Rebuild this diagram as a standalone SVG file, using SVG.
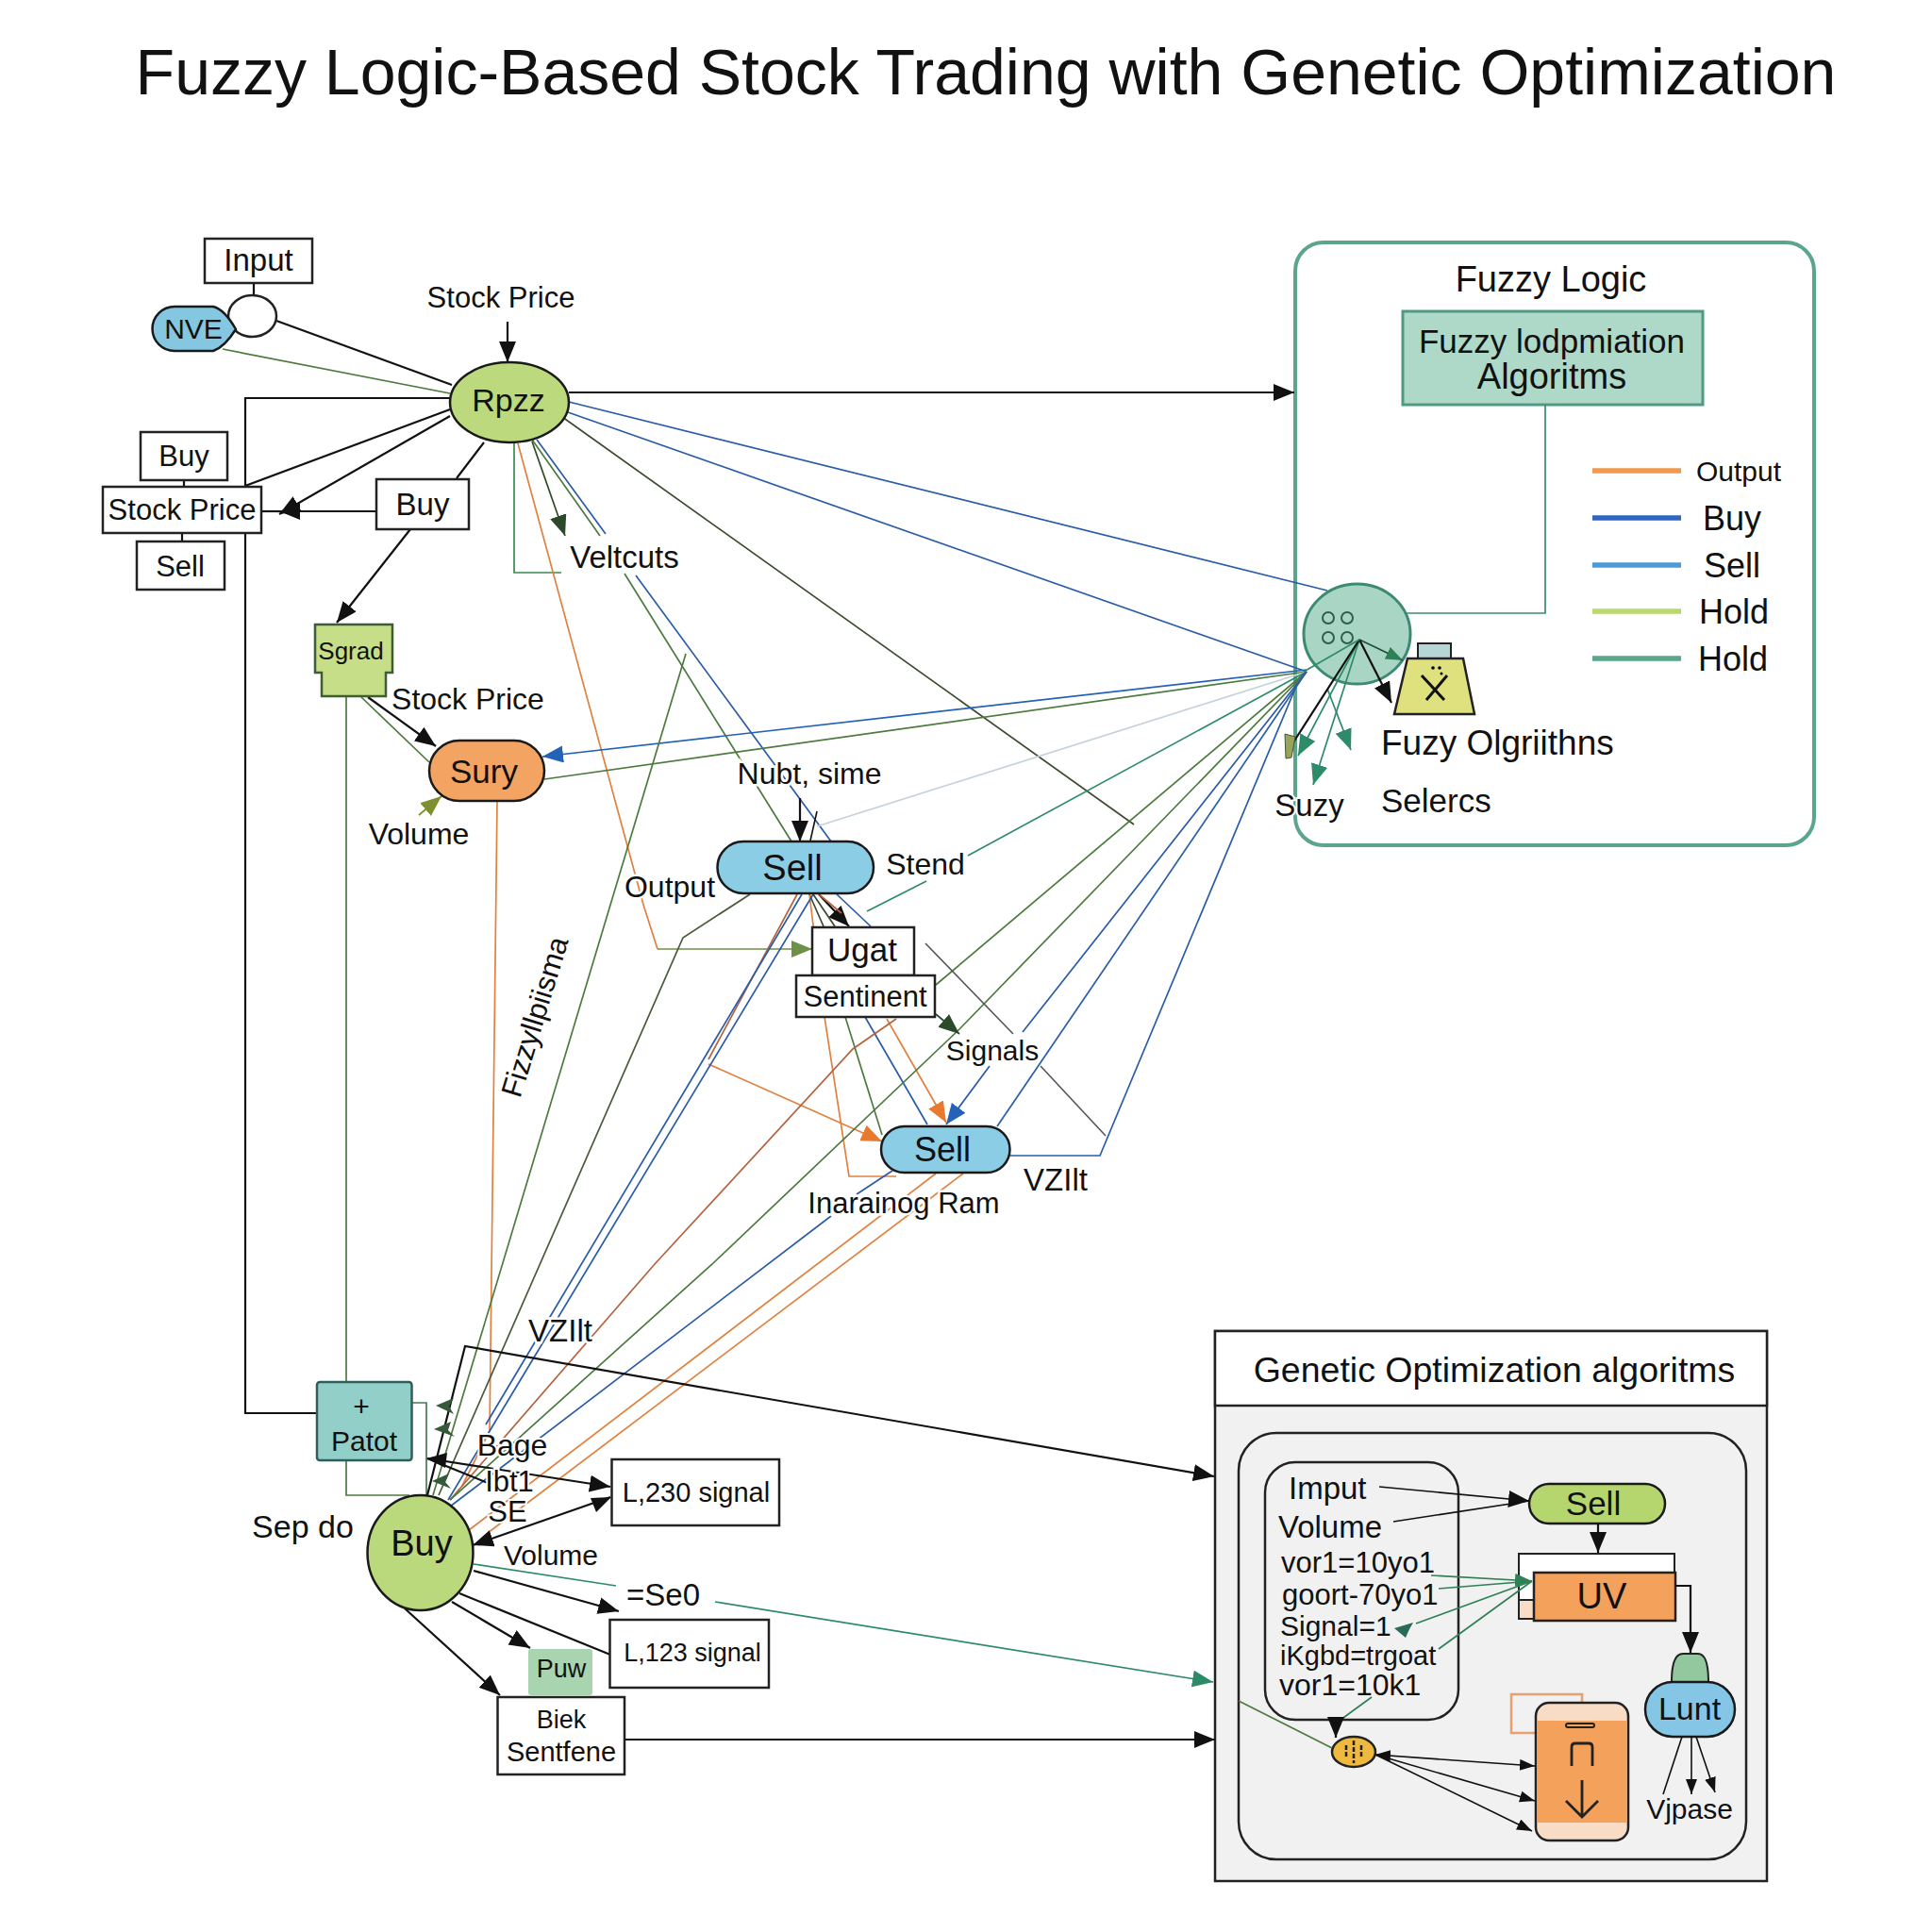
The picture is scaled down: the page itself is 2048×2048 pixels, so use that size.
<svg xmlns="http://www.w3.org/2000/svg" width="2048" height="2048" viewBox="0 0 2048 2048">
<style>
text{font-family:"Liberation Sans",Arial,sans-serif;fill:#111;text-anchor:middle;dominant-baseline:central}
.l{text-anchor:start}
.box{fill:#fff;stroke:#222;stroke-width:2.5}
.node{stroke:#1a1a1a;stroke-width:2.5}
.c{fill:none;stroke-width:1.7;stroke-linejoin:miter}
.k{stroke:#111;stroke-width:2.2}
.g{stroke:#4d7a3e}
.dg{stroke:#3c4a30}
.tl{stroke:#2e8b6a}
.bl{stroke:#2b5ca8}
.or{stroke:#e0813f}
.br{stroke:#b5623f}
.gy{stroke:#555}
.thin{stroke-width:1.6}
.leg{stroke-width:5.5;fill:none}
</style>
<defs>
<marker id="ak" markerUnits="userSpaceOnUse" markerWidth="24" markerHeight="20" refX="22" refY="9" orient="auto"><path d="M0 0L22 9L0 18z" fill="#111"/></marker>
<marker id="aks" markerUnits="userSpaceOnUse" markerWidth="18" markerHeight="14" refX="16" refY="6" orient="auto"><path d="M0 0L16 6L0 12z" fill="#111"/></marker>
<marker id="ads" markerUnits="userSpaceOnUse" markerWidth="18" markerHeight="14" refX="16" refY="6" orient="auto-start-reverse"><path d="M0 0L16 6L0 12z" fill="#111"/></marker>
<marker id="adg" markerUnits="userSpaceOnUse" markerWidth="24" markerHeight="20" refX="22" refY="9" orient="auto"><path d="M0 0L22 9L0 18z" fill="#2a4a2a"/></marker>
<marker id="abl" markerUnits="userSpaceOnUse" markerWidth="24" markerHeight="20" refX="22" refY="9" orient="auto"><path d="M0 0L22 9L0 18z" fill="#2462b8"/></marker>
<marker id="aor" markerUnits="userSpaceOnUse" markerWidth="24" markerHeight="20" refX="22" refY="9" orient="auto"><path d="M0 0L22 9L0 18z" fill="#e87a30"/></marker>
<marker id="atl" markerUnits="userSpaceOnUse" markerWidth="24" markerHeight="20" refX="22" refY="9" orient="auto"><path d="M0 0L22 9L0 18z" fill="#2e8b6a"/></marker>
<marker id="atg" markerUnits="userSpaceOnUse" markerWidth="20" markerHeight="16" refX="18" refY="7" orient="auto"><path d="M0 0L18 7L0 14z" fill="#2f8055"/></marker>
<marker id="aol" markerUnits="userSpaceOnUse" markerWidth="24" markerHeight="20" refX="22" refY="9" orient="auto"><path d="M0 0L22 9L0 18z" fill="#7d8f2e"/></marker>
<marker id="agn" markerUnits="userSpaceOnUse" markerWidth="24" markerHeight="20" refX="22" refY="9" orient="auto"><path d="M0 0L22 9L0 18z" fill="#6f9048"/></marker>
</defs>
<rect width="2048" height="2048" fill="#fff"/>
<text id="title" x="1045" y="76" font-size="68">Fuzzy Logic-Based Stock Trading with Genetic Optimization</text>

<g id="fuzzy-panel">
<rect x="1373" y="257" width="550" height="639" rx="30" fill="#fff" stroke="#5ba58f" stroke-width="4"/>
<text x="1644" y="296" font-size="38">Fuzzy Logic</text>
</g>
<g id="fuzzy-box"><rect x="1487" y="330" width="318" height="99" fill="#aed9c8" stroke="#4f9a82" stroke-width="3"/>
<text x="1645" y="361" font-size="35">Fuzzy lodpmiation</text><text x="1645" y="399" font-size="38">Algoritms</text></g>
<g id="legend">
<path class="leg" stroke="#f0994f" d="M1688 499H1782"/><path class="leg" stroke="#2f66c4" d="M1688 549H1782"/><path class="leg" stroke="#4a9bd8" d="M1688 599H1782"/><path class="leg" stroke="#b9d86e" d="M1688 648H1782"/><path class="leg" stroke="#5aa88a" d="M1688 698H1782"/>
<text class="l" x="1798" y="499" font-size="30">Output</text><text class="l" x="1805" y="549" font-size="36">Buy</text><text class="l" x="1806" y="599" font-size="36">Sell</text><text class="l" x="1801" y="648" font-size="36">Hold</text><text class="l" x="1800" y="698" font-size="36">Hold</text>
</g>
<g id="fuzzy-circle"><ellipse cx="1438.500" cy="672" rx="56.500" ry="53" fill="#a9d6c4" stroke="#3d8a73" stroke-width="3"/>
<g fill="none" stroke="#2c5f50" stroke-width="2"><circle cx="1408" cy="655" r="6"/><circle cx="1428" cy="655" r="6"/><circle cx="1408" cy="676" r="6"/><circle cx="1428" cy="676" r="6"/></g></g>
<g id="weight"><rect x="1503" y="682" width="35" height="16" fill="#b8d5d5" stroke="#222" stroke-width="2"/>
<path d="M1492 698H1551L1563 757H1478z" fill="#dfe07e" stroke="#222" stroke-width="2.500"/>
<path d="M1507 716L1531 742M1534 716L1512 742" stroke="#111" stroke-width="3" fill="none"/><circle cx="1519" cy="708" r="1.800"/><circle cx="1526" cy="708" r="1.800"/><circle cx="1528" cy="714" r="1.500"/></g>
<g id="fuzzy-labels"><text class="l" x="1464" y="787" font-size="37">Fuzy Olgriithns</text><text class="l" x="1464" y="848" font-size="35">Selercs</text></g>

<g id="genetic-panel">
<rect x="1288" y="1411" width="585" height="583" fill="#f1f1f1" stroke="#222" stroke-width="2.500"/>
<rect x="1288" y="1411" width="585" height="79" fill="#fff" stroke="#222" stroke-width="2.500"/>
<text x="1584" y="1452" font-size="37.500">Genetic Optimization algoritms</text>
<rect x="1313" y="1519" width="538" height="452" rx="40" fill="none" stroke="#222" stroke-width="2.500"/>
</g>
<g id="genetic-input"><rect x="1341" y="1550" width="205" height="273" rx="32" fill="none" stroke="#222" stroke-width="2.500"/>
<text class="l" x="1366" y="1577" font-size="33">Imput</text><text class="l" x="1355" y="1618" font-size="33">Volume</text>
<text class="l" x="1358" y="1656" font-size="31">vor1=10yo1</text><text class="l" x="1359" y="1690" font-size="31">goort-70yo1</text>
<text class="l" x="1357" y="1723" font-size="30">Signal=1</text><text class="l" x="1357" y="1755" font-size="29">iKgbd=trgoat</text><text class="l" x="1356" y="1786" font-size="32">vor1=10k1</text></g>
<g id="genetic-sell"><rect x="1621" y="1573" width="144" height="42" rx="21" fill="#b5d66f" class="node"/><text x="1689" y="1593" font-size="35">Sell</text></g>
<g id="genetic-uv"><rect x="1610" y="1647" width="165" height="69" fill="#fff" stroke="#222" stroke-width="2"/><path d="M1610 1696H1626" stroke="#222" stroke-width="2"/><rect x="1611" y="1697" width="15" height="18" fill="#f9dcc6"/>
<rect x="1626" y="1667" width="150" height="51" fill="#f4a15c" stroke="#222" stroke-width="2.500"/><text x="1698" y="1692" font-size="38">UV</text></g>
<g id="genetic-lunt"><path d="M1772 1783Q1772 1753 1784 1753H1800Q1811 1753 1811 1783z" fill="#93c89e" stroke="#222" stroke-width="2"/>
<rect x="1744" y="1783" width="95" height="58" rx="29" fill="#85c6e6" class="node"/><text x="1791" y="1811" font-size="34">Lunt</text></g>
<g id="genetic-vjpase"><text x="1791" y="1917" font-size="30">Vjpase</text></g>
<g id="genetic-card"><rect x="1602" y="1796" width="75" height="41" fill="none" stroke="#e8a070" stroke-width="2.500"/>
<rect x="1628" y="1805" width="98" height="146" rx="14" fill="#f9dcc6" stroke="#222" stroke-width="2.500"/><rect x="1629.500" y="1824" width="95" height="108" fill="#f4a15c"/>
<rect x="1660" y="1827" width="30" height="4" rx="2" fill="none" stroke="#222" stroke-width="2"/>
<path d="M1666 1872V1852Q1666 1848 1670 1848H1684Q1688 1848 1688 1852V1872M1677 1887V1926M1660 1909L1677 1926L1694 1909" fill="none" stroke="#222" stroke-width="2.800"/></g>
<g id="genetic-gene"><ellipse cx="1435" cy="1857" rx="23" ry="16" fill="#efb93f" stroke="#222" stroke-width="2.500"/><path d="M1435 1845V1869M1427 1850V1864M1443 1850V1864" stroke="#222" stroke-width="2.500" fill="none" stroke-dasharray="5 2"/></g>

<g id="connectors">
<path class="c g" d="M236 370L477 417"/>
<path class="c k" d="M293 340L479 408M269 300V313"/>
<path class="c k" d="M477 422H260V516M260 565V1498H336M477 434L260 515M513 469L484 507M195 509V516M193 565V574"/>
<path class="c k" d="M477 441L296 545" marker-end="url(#ak)"/>
<path class="c k" d="M399 542H296" marker-end="url(#ak)"/><path class="c k" d="M296 542H277"/>
<path class="c k" d="M538 341V384" marker-end="url(#ak)"/>
<path class="c k" d="M435 561L357 660" marker-end="url(#ak)"/>
<path class="c k" d="M603 416H1372" marker-end="url(#ak)"/>
<path class="c k" d="M390 739L462 791" marker-end="url(#ak)"/>
<path class="c g" d="M383 739L455 808"/>
<path class="c" stroke="#7d8f2e" stroke-width="2.500" d="M444 864L468 844" marker-end="url(#aol)"/>
<path class="c" stroke="#3a8a50" stroke-width="2.500" d="M545 469V607H595"/>
<path class="c or" d="M549 470L682 959L697 1006"/>
<path class="c" stroke="#6f9048" stroke-width="2.200" d="M697 1006H861" marker-end="url(#agn)"/>
<path class="c" stroke="#2f4d24" stroke-width="2.200" d="M564 468L599 568" marker-end="url(#adg)"/>
<path class="c bl" d="M569 466L642 566M674 610L881 892"/>
<path class="c g" d="M564 466L636 568M662 608L839 892"/>
<path class="c dg" d="M589 437L1202 874"/>
<path class="c bl" d="M603 426L1407 626M602 437L1385 712"/>
<path class="c" stroke="#2462b8" stroke-width="2.200" d="M1385 710L575 802" marker-end="url(#abl)"/>
<path class="c g" d="M1385 712L577 826"/>
<path class="c g" d="M367 738V1465M367 1548V1585H434"/>
<path class="c" stroke="#4a7a55" d="M436 1487H452V1587"/>
<path class="c or" d="M527 849L519 1517L490 1575"/>
<path class="c g" d="M727 693L459 1585"/>
<path class="c" stroke="#4a5a3a" d="M795 948L724 994L465 1585"/>
<path class="c" stroke="#c3d2dd" stroke-width="3" d="M866 876L1385 712"/>
<path class="c k thin" d="M866 860L859 891"/>
<path class="c k" d="M848 846V892" marker-end="url(#ak)"/>
<path class="c tl" d="M919 966L982 934M1026 907L1385 712"/>
<path class="c k" d="M868 948L900 982" marker-end="url(#ak)"/>
<path class="c dg" d="M862 948L885 982M858 948L873 982"/>
<path class="c bl" d="M887 948L923 982"/>
<path class="c br" d="M868 948L892 968"/>
<path class="c or" d="M858 948L874 1078L900 1247H950"/>
<path class="c bl" d="M917 1078L983 1192"/>
<path class="c g" d="M896 1078L935 1203"/>
<path class="c or" stroke-width="2.200" d="M940 1080L1003 1190" marker-end="url(#aor)"/>
<path class="c or" d="M751 1128L935 1210" marker-end="url(#aor)"/>
<path class="c br" d="M845 948L751 1123M950 1080L904 1112L694 1340L477 1590"/>
<path class="c bl" d="M862 948L519 1517L475 1590M850 948L515 1510"/>
<path class="c g" d="M1385 712L992 1044"/>
<path class="c g" d="M1385 712L1017 1091L755 1340L477 1590"/>
<path class="c bl" d="M1385 712L1084 1094M1049 1130L1003 1192" marker-end="url(#abl)"/>
<path class="c bl" d="M1385 712L1057 1194"/>
<path class="c bl" d="M1071 1225H1166L1375 725"/>
<path class="c gy thin" d="M981 1000L1074 1096M1103 1130L1172 1204"/>
<path class="c" stroke="#1f4d3a" stroke-width="2.200" d="M992 1075L1017 1096" marker-end="url(#adg)"/>
<path class="c bl" d="M946 1241L908 1266M881 1289L477 1597"/>
<path class="c or" d="M992 1244L497 1622M1021 1244L517 1625"/>
<path class="c tl" d="M502 1658L653 1681M758 1698L1286 1783" marker-end="url(#atl)"/>
<path class="c k" d="M453 1585L493 1427L1287 1565" marker-end="url(#ak)"/>
<path class="c k" d="M453 1546L647 1576" marker-end="url(#ak)"/><path d="M452 1546L474 1540L472 1556z" fill="#111"/>
<path class="c k" d="M453 1546L517 1572"/>
<path class="c k" d="M647 1587L501 1638" marker-end="url(#ak)"/><path d="M648 1587L626 1588L632 1603z" fill="#111"/>
<path class="c k" d="M502 1665L656 1708" marker-end="url(#ak)"/>
<path class="c k" d="M487 1689L647 1754"/>
<path class="c k" d="M479 1698L562 1747" marker-end="url(#ak)"/>
<path class="c k" d="M429 1705L530 1797" marker-end="url(#ak)"/>
<path class="c k" d="M662 1844H1288" marker-end="url(#ak)"/>
<path d="M462 1490L481 1482L476 1491L481 1499zM460 1515L478 1507L475 1516L482 1523zM458 1570L476 1562L472 1571L478 1578z" fill="#35593a"/>
<path class="c" stroke="#3d8a73" stroke-width="2.500" d="M1638 429V650H1491"/>
<path class="c" stroke="#1f4d3a" d="M1441 678L1487 700" marker-end="url(#atg)"/>
<path class="c k" d="M1441 678L1475 745" marker-end="url(#ak)"/>
<path class="c tl" stroke-width="2.200" d="M1407 730L1432 795" marker-end="url(#atl)"/>
<path class="c tl" stroke-width="2.200" d="M1441 678L1392 832" marker-end="url(#atl)"/>
<path class="c tl" stroke-width="2.200" d="M1441 678L1376 801" marker-end="url(#atl)"/>
<path class="c k" d="M1441 678L1369 790"/>
<path class="c tl" d="M1441 678L1382 712"/>
<path d="M1362 778L1373 781L1369 803L1363 804z" fill="#9aa35a" stroke="#3f5a33"/>
<path class="c k thin" d="M1462 1576L1621 1591" marker-end="url(#ak)"/><path class="c k thin" d="M1477 1613L1621 1591"/>
<path class="c k" d="M1694 1615V1646" marker-end="url(#ak)"/>
<path class="c k" d="M1776 1681H1792V1752" marker-end="url(#ak)"/>
<path class="c k thin" d="M1783 1841L1763 1902"/><path class="c k thin" d="M1793 1841V1902" marker-end="url(#aks)"/><path class="c k thin" d="M1798 1841L1818 1900" marker-end="url(#aks)"/>
<g stroke="#2f8055"><path class="c" d="M1517 1670L1624 1676" marker-end="url(#atg)"/><path class="c" d="M1525 1684L1624 1676"/><path class="c" d="M1501 1721L1624 1676"/><path class="c" stroke-width="2.200" d="M1525 1748L1624 1676M1454 1799L1417 1826"/></g>
<path d="M1478 1726L1498 1720L1494 1727L1490 1736z" fill="#2a6a5a"/>
<path class="c k" d="M1416 1822V1842" marker-end="url(#ak)"/>
<path class="c g" d="M1313 1803L1412 1853"/>
<path class="c k thin" d="M1458 1860L1627 1872" marker-start="url(#ads)" marker-end="url(#ads)"/><path class="c k thin" d="M1458 1860L1627 1909" marker-end="url(#ads)"/><path class="c k thin" d="M1458 1860L1624 1941" marker-end="url(#ads)"/>
</g>

<g id="input"><rect class="box" x="217" y="253" width="114" height="47"/><text x="274" y="275" font-size="33">Input</text></g>
<g id="input-circle"><ellipse cx="267.500" cy="335" rx="25.500" ry="22" fill="#fff" stroke="#222" stroke-width="2.500"/></g>
<g id="nve"><path class="node" fill="#85c6e0" d="M185 325H226Q238 328 250 349Q238 368 226 372H185A23.500 23.500 0 0 1 185 325z"/><text x="205" y="348" font-size="30">NVE</text></g>
<g id="rpzz"><ellipse class="node" cx="540" cy="426.500" rx="63" ry="42.500" fill="#bcd97e"/><text x="539" y="424" font-size="34">Rpzz</text></g>
<g id="stock-buy"><rect class="box" x="149" y="458" width="92" height="51"/><text x="195" y="483" font-size="31">Buy</text></g>
<g id="stock-price"><rect class="box" x="109" y="516" width="168" height="49"/><text x="193" y="540" font-size="31">Stock Price</text></g>
<g id="stock-sell"><rect class="box" x="145" y="574" width="93" height="51"/><text x="191" y="600" font-size="31">Sell</text></g>
<g id="buy-box"><rect class="box" x="399" y="508" width="98" height="53"/><text x="448" y="534" font-size="33">Buy</text></g>
<g id="sgrad"><path d="M334 662H416V713H409V738H341V713H334z" fill="#c5de87" stroke="#3d5e35" stroke-width="2.500"/><text x="372" y="690" font-size="26">Sgrad</text></g>
<g id="sury"><rect class="node" x="455" y="785" width="122" height="64" rx="32" fill="#f4a462"/><text x="513" y="817" font-size="35">Sury</text></g>
<g id="sell-1"><rect class="node" x="760.500" y="892" width="165.500" height="55" rx="27.500" fill="#8acde4"/><text x="840" y="920" font-size="38">Sell</text></g>
<g id="ugat"><rect class="box" x="861" y="983" width="108" height="51"/><text x="914" y="1006" font-size="35">Ugat</text></g>
<g id="sentinent"><rect class="box" x="844" y="1034" width="147" height="44"/><text x="917" y="1056" font-size="31">Sentinent</text></g>
<g id="sell-2"><rect class="node" x="934" y="1194" width="136.500" height="49" rx="24.500" fill="#8acde4"/><text x="999" y="1218" font-size="36">Sell</text></g>
<g id="patot"><rect x="336" y="1465" width="100.500" height="83" rx="3" fill="#93cfc9" stroke="#2f5f5a" stroke-width="2.500"/><text x="383" y="1490" font-size="30">+</text><text x="386" y="1527" font-size="30">Patot</text></g>
<g id="buy"><ellipse class="node" cx="445.500" cy="1646" rx="56" ry="61" fill="#b9d97c"/><text x="447" y="1636" font-size="38">Buy</text></g>
<g id="signal-230"><rect class="box" x="648.500" y="1547" width="177.500" height="70"/><text x="738" y="1582" font-size="29">L,230 signal</text></g>
<g id="signal-123"><rect class="box" x="646.500" y="1717" width="168.500" height="72"/><text x="734" y="1752" font-size="27">L,123 signal</text></g>
<g id="puw"><rect x="560" y="1748" width="68" height="49" rx="3" fill="#a8d5b0"/><text x="595" y="1769" font-size="27">Puw</text></g>
<g id="biek"><rect class="box" x="527.500" y="1799" width="134.500" height="82"/><text x="595" y="1823" font-size="27">Biek</text><text x="595" y="1857" font-size="29">Sentfene</text></g>

<g id="labels">
<text x="531" y="315" font-size="31">Stock Price</text>
<text x="662" y="590" font-size="33" stroke="#fff" stroke-width="5" paint-order="stroke">Veltcuts</text>
<text x="496" y="741" font-size="32">Stock Price</text>
<text x="444" y="884" font-size="32">Volume</text>
<text x="858" y="820" font-size="32" stroke="#fff" stroke-width="5" paint-order="stroke">Nubt, sime</text>
<text x="710" y="940" font-size="32" stroke="#fff" stroke-width="5" paint-order="stroke">Output</text>
<text x="981" y="916" font-size="32">Stend</text>
<text x="1052" y="1113" font-size="30" stroke="#fff" stroke-width="5" paint-order="stroke">Signals</text>
<text x="958" y="1275" font-size="31" stroke="#fff" stroke-width="5" paint-order="stroke">Inarainog Ram</text>
<text x="1119" y="1250" font-size="33">VZIlt</text>
<text x="594" y="1410" font-size="33" stroke="#fff" stroke-width="5" paint-order="stroke">VZIlt</text>
<text x="567" y="1078" font-size="31" transform="rotate(-73 567 1078)" stroke="#fff" stroke-width="5" paint-order="stroke">Fizzyllpiisma</text>
<text x="543" y="1532" font-size="32" stroke="#fff" stroke-width="4" paint-order="stroke">Bage</text>
<text x="540" y="1570" font-size="31" stroke="#fff" stroke-width="4" paint-order="stroke">Ibt1</text>
<text x="538" y="1602" font-size="31" stroke="#fff" stroke-width="4" paint-order="stroke">SE</text>
<text x="321" y="1618" font-size="34">Sep do</text>
<text x="584" y="1648" font-size="30">Volume</text>
<text x="703" y="1690" font-size="33">=Se0</text>
<text x="1388" y="853" font-size="33" stroke="#fff" stroke-width="4" paint-order="stroke">Suzy</text>
</g>
</svg>
